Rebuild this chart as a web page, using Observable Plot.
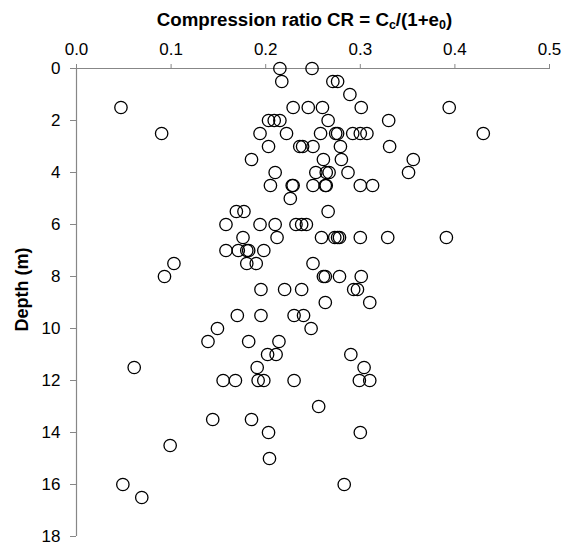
<!DOCTYPE html>
<html>
<head>
<meta charset="utf-8">
<script src="https://cdn.jsdelivr.net/npm/d3@7"></script>
<script src="https://cdn.jsdelivr.net/npm/@observablehq/plot@0.6"></script>
<style>
  html, body { margin: 0; padding: 0; background: #fff; }
  #chart { width: 563px; font-family: "Liberation Sans", Arial, sans-serif; }
  #title {
    box-sizing: border-box; width: 563px; height: 30px;
    padding-top: 10px; padding-left: 46px;
    text-align: center; font-weight: bold; font-size: 18.7px; line-height: 20px; color: #000;
  }
  #title sub { font-size: 12.5px; line-height: 0; vertical-align: -3px; }
</style>
</head>
<body>
<div id="chart">
  <div id="title">Compression ratio CR = C<sub>c</sub>/(1+e<sub>0</sub>)</div>
</div>
<script>
// Sample depths (m) and the matching compression ratio CR = Cc/(1+e0)
const depthM = [
  0, 0,
  0.5, 0.5, 0.5,
  1.0,
  1.5, 1.5, 1.5, 1.5, 1.5, 1.5,
  2.0, 2.0, 2.0, 2.0, 2.0,
  2.5, 2.5, 2.5, 2.5, 2.5, 2.5, 2.5, 2.5, 2.5, 2.5,
  3.0, 3.0, 3.0, 3.0, 3.0, 3.0,
  3.5, 3.5, 3.5, 3.5,
  4.0, 4.0, 4.0, 4.0, 4.0, 4.0,
  4.5, 4.5, 4.5, 4.5, 4.5, 4.5, 4.5, 4.5,
  5.0,
  5.5, 5.5, 5.5,
  6.0, 6.0, 6.0, 6.0, 6.0, 6.0,
  6.5, 6.5, 6.5, 6.5, 6.5, 6.5, 6.5, 6.5, 6.5,
  7.0, 7.0, 7.0, 7.0, 7.0,
  7.5, 7.5, 7.5, 7.5,
  8.0, 8.0, 8.0, 8.0, 8.0,
  8.5, 8.5, 8.5, 8.5, 8.5,
  9.0, 9.0,
  9.5, 9.5, 9.5, 9.5,
  10.0, 10.0,
  10.5, 10.5, 10.5,
  11.0, 11.0, 11.0,
  11.5, 11.5, 11.5,
  12.0, 12.0, 12.0, 12.0, 12.0, 12.0, 12.0,
  13.0,
  13.5, 13.5,
  14.0, 14.0,
  14.5,
  15.0,
  16.0, 16.0,
  16.5
];
const crValues = [
  0.215, 0.249,
  0.217, 0.271, 0.276,
  0.289,
  0.047, 0.229, 0.245, 0.260, 0.301, 0.394,
  0.203, 0.209, 0.215, 0.266, 0.330,
  0.090, 0.194, 0.222, 0.258, 0.274, 0.276, 0.292, 0.300, 0.307, 0.430,
  0.203, 0.236, 0.239, 0.250, 0.279, 0.331,
  0.185, 0.261, 0.280, 0.356,
  0.210, 0.253, 0.264, 0.267, 0.287, 0.351,
  0.205, 0.228, 0.229, 0.250, 0.263, 0.264, 0.300, 0.313,
  0.226,
  0.169, 0.177, 0.266,
  0.158, 0.194, 0.210, 0.232, 0.238, 0.243,
  0.176, 0.212, 0.259, 0.273, 0.276, 0.278, 0.300, 0.329, 0.391,
  0.158, 0.171, 0.180, 0.182, 0.198,
  0.103, 0.180, 0.190, 0.250,
  0.093, 0.261, 0.263, 0.278, 0.301,
  0.195, 0.220, 0.238, 0.293, 0.297,
  0.263, 0.310,
  0.170, 0.195, 0.230, 0.240,
  0.149, 0.248,
  0.139, 0.182, 0.214,
  0.202, 0.211, 0.290,
  0.061, 0.191, 0.304,
  0.155, 0.168, 0.192, 0.198, 0.230, 0.299, 0.310,
  0.256,
  0.144, 0.185,
  0.203, 0.300,
  0.099,
  0.204,
  0.049, 0.283,
  0.069
];
const xTicks = [0, 0.1, 0.2, 0.3, 0.4, 0.5];
const yTicks = [0, 2, 4, 6, 8, 10, 12, 14, 16, 18];
const yTitle = "Depth (m)";

const samples = depthM.map((d, i) => ({depth: d, cr: crValues[i]}));
const axisGrey = "#878787";

const plot = Plot.plot({
  width: 563,
  height: 516,
  marginTop: 38,
  marginBottom: 10,
  marginLeft: 76,
  marginRight: 14,
  style: {
    fontFamily: "'Liberation Sans', Arial, sans-serif",
    fontSize: "17px",
    color: "#000",
    background: "#fff",
    overflow: "visible"
  },
  x: {domain: [0, 0.5]},
  y: {domain: [0, 18], reverse: true},
  marks: [
    Plot.ruleY([0], {stroke: axisGrey, strokeWidth: 1.2}),
    Plot.ruleX([0], {stroke: axisGrey, strokeWidth: 1.2}),
    Plot.axisX({
      anchor: "top", ticks: xTicks, tickFormat: d3.format(".1f"),
      tickSize: 5, tickPadding: 9, stroke: axisGrey, fill: "#000", label: null
    }),
    Plot.axisY({
      anchor: "left", ticks: yTicks, tickFormat: d3.format("d"),
      tickSize: 6, tickPadding: 10, stroke: axisGrey, fill: "#000", label: null
    }),
    // vertical axis title, centred a little above the middle of the frame
    Plot.text([yTitle], {
      frameAnchor: "left", textAnchor: "middle", rotate: -90, dx: -54, dy: -13,
      fontWeight: "bold", fontSize: 18, fill: "#000"
    }),
    Plot.dot(samples, {
      x: "cr", y: "depth", r: 6.2,
      stroke: "#000", strokeWidth: 1.3, fill: "none"
    })
  ]
});

document.getElementById("chart").appendChild(plot);
</script>
</body>
</html>
